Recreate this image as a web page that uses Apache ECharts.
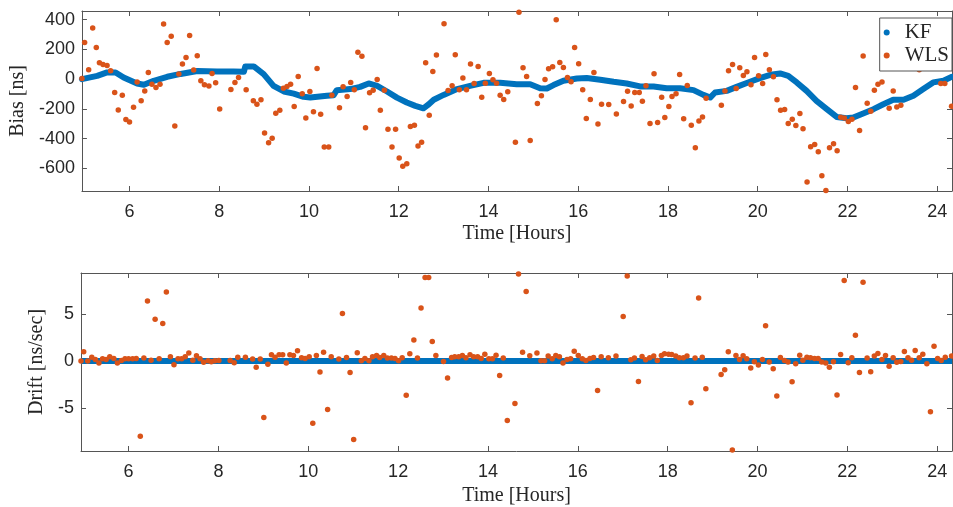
<!DOCTYPE html>
<html>
<head>
<meta charset="utf-8">
<script src="https://cdn.jsdelivr.net/npm/echarts@6/dist/echarts.min.js"></script>
<style>html,body{margin:0;padding:0;background:#fff}#c{width:953px;height:507px}</style>
</head>
<body>
<div id="c"></div>
<script>
const hourTicks = [6, 8, 10, 12, 14, 16, 18, 20, 22, 24];
const biasTicks = [-600, -400, -200, 0, 200, 400];
const driftTicks = [-5, 0, 5];

const kfBias = [[4.94,0],[5.28,22],[5.50,45],[5.69,45],[5.87,11],[6.17,-29],[6.32,-38],[6.54,-11],[6.84,16],[7.14,35],[7.51,55],[7.95,52],[8.32,52],[8.55,50],[8.58,85],[8.77,85],[8.99,34],[9.21,-45],[9.44,-83],[9.66,-97],[9.88,-119],[10.03,-124],[10.40,-112],[10.55,-108],[10.62,-74],[10.92,-67],[11.14,-52],[11.33,-29],[11.52,-45],[11.74,-83],[11.96,-124],[12.18,-157],[12.37,-180],[12.55,-196],[12.67,-169],[12.78,-139],[13.0,-106],[13.30,-67],[13.59,-45],[13.89,-25],[14.26,-25],[14.63,-34],[14.93,-34],[15.15,-61],[15.30,-63],[15.45,-40],[15.67,-11],[15.97,4],[16.19,7],[16.49,-4],[16.79,-18],[17.08,-29],[17.38,-49],[17.68,-49],[17.97,-61],[18.27,-61],[18.57,-74],[18.79,-106],[18.94,-124],[19.05,-90],[19.31,-79],[19.53,-52],[19.83,-18],[20.05,7],[20.28,29],[20.50,38],[20.68,22],[20.87,-22],[21.09,-79],[21.31,-146],[21.54,-202],[21.76,-254],[21.98,-263],[22.13,-258],[22.35,-231],[22.58,-202],[22.80,-169],[23.02,-139],[23.25,-139],[23.47,-112],[23.69,-67],[23.91,-22],[24.14,-11],[24.33,16]];

const wlsBias = [[4.94,5],[5.00,247],[5.09,63],[5.18,344],[5.26,213],[5.33,110],[5.41,99],[5.50,92],[5.58,56],[5.67,-90],[5.75,-207],[5.84,-108],[5.92,-272],[6.00,-288],[6.09,-189],[6.17,-20],[6.26,-146],[6.34,-79],[6.42,45],[6.50,-34],[6.59,-56],[6.68,-34],[6.76,371],[6.84,247],[6.93,288],[7.01,-315],[7.10,34],[7.18,101],[7.26,146],[7.34,294],[7.43,61],[7.51,157],[7.59,-11],[7.67,-38],[7.77,-47],[7.84,38],[7.92,-25],[8.01,-200],[8.26,-70],[8.35,-22],[8.43,11],[8.60,-72],[8.76,-146],[8.84,-169],[8.93,-139],[9.01,-362],[9.10,-427],[9.18,-398],[9.26,-229],[9.35,-209],[9.43,-61],[9.51,-49],[9.59,-34],[9.67,-184],[9.76,18],[9.85,-99],[9.93,-261],[10.02,-83],[10.10,-220],[10.18,72],[10.26,-236],[10.34,-456],[10.44,-456],[10.51,-108],[10.68,-193],[10.76,-52],[10.85,-117],[10.93,-22],[11.01,-72],[11.09,180],[11.18,153],[11.26,-326],[11.35,-92],[11.43,-74],[11.52,-2],[11.59,-209],[11.68,-74],[11.76,-337],[11.85,-456],[11.93,-337],[12.01,-530],[12.09,-586],[12.18,-568],[12.26,-319],[12.35,-310],[12.43,-449],[12.51,-425],[12.60,110],[12.68,-243],[12.76,52],[12.84,162],[13.01,373],[13.10,-76],[13.19,-45],[13.26,164],[13.35,-72],[13.43,7],[13.51,-72],[13.60,101],[13.68,-29],[13.77,85],[13.85,-121],[13.93,-27],[14.02,38],[14.10,-4],[14.18,-27],[14.26,-108],[14.34,-137],[14.43,-85],[14.60,-425],[14.68,450],[14.77,76],[14.85,18],[14.93,-413],[15.09,-164],[15.18,-112],[15.26,-2],[15.34,70],[15.43,83],[15.51,400],[15.59,112],[15.67,79],[15.76,11],[15.84,-18],[15.92,213],[16.01,103],[16.10,-72],[16.18,-265],[16.27,-137],[16.35,45],[16.44,-301],[16.52,-169],[16.68,-171],[16.85,-234],[17.01,-151],[17.10,-81],[17.18,-180],[17.26,-90],[17.36,-90],[17.43,-148],[17.51,-45],[17.60,-299],[17.69,36],[17.77,-292],[17.86,-121],[17.93,-258],[18.02,-184],[18.09,-117],[18.18,-99],[18.26,31],[18.35,-267],[18.43,-43],[18.52,-310],[18.61,-461],[18.69,-281],[18.77,-254],[18.85,-128],[19.19,-175],[19.27,-79],[19.35,56],[19.44,99],[19.52,-63],[19.60,76],[19.68,25],[19.76,49],[19.85,-38],[19.93,146],[20.02,22],[20.11,-29],[20.18,166],[20.26,63],[20.35,16],[20.43,-139],[20.51,-209],[20.60,-204],[20.68,-299],[20.77,-270],[20.85,-312],[20.94,-231],[21.01,-333],[21.10,-692],[21.18,-454],[21.27,-440],[21.35,-488],[21.43,-649],[21.52,-748],[21.60,-461],[21.69,-434],[21.77,-481],[21.85,-256],[21.93,-261],[22.02,-285],[22.10,-270],[22.18,-56],[22.27,-346],[22.35,155],[22.44,-162],[22.52,-216],[22.60,-74],[22.68,-34],[22.77,-20],[22.93,-196],[23.02,-79],[23.10,-187],[23.19,-175],[23.60,63],[23.84,79],[24.08,-29],[24.17,-29],[24.32,-182]];

const kfDrift = [[4.94,0],[8,0],[12,0],[16,0],[20,0],[24.33,0]];

const wlsDrift = [[4.94,0],[5.00,0.99],[5.09,0],[5.18,0.42],[5.26,0.18],[5.34,-0.21],[5.42,0.25],[5.50,0.18],[5.58,0.46],[5.67,0.28],[5.75,-0.21],[5.84,0.07],[5.92,0.25],[6.00,0.25],[6.09,0.25],[6.17,0.28],[6.26,-8.03],[6.34,0.32],[6.42,6.41],[6.50,0.1],[6.59,4.47],[6.68,0.25],[6.76,4.01],[6.84,7.36],[6.93,0.46],[7.01,-0.39],[7.10,0.25],[7.18,0.25],[7.26,0.46],[7.34,0.85],[7.43,0.1],[7.51,0.56],[7.59,0.25],[7.67,-0.14],[7.77,0.04],[7.84,-0.07],[7.92,0.04],[8.01,0.07],[8.26,0.07],[8.35,-0.18],[8.43,0.42],[8.60,0.42],[8.76,0.21],[8.84,-0.67],[8.93,0.21],[9.01,-6.02],[9.10,-0.35],[9.18,0.67],[9.26,0.42],[9.35,0.67],[9.43,0.67],[9.51,-0.21],[9.59,0.67],[9.67,0.6],[9.76,1.09],[9.85,0.35],[9.93,0.28],[10.02,0.46],[10.10,-6.65],[10.18,0.6],[10.26,-1.16],[10.34,0.95],[10.43,-5.18],[10.51,0.46],[10.68,0.21],[10.76,5.07],[10.85,0.39],[10.93,-1.23],[11.01,-8.38],[11.09,0.88],[11.18,0.04],[11.26,0.28],[11.35,0.04],[11.43,0.46],[11.52,0.6],[11.59,0.39],[11.68,0.6],[11.76,0.32],[11.85,0.32],[11.93,0.28],[12.01,0.04],[12.09,0.35],[12.18,-3.66],[12.26,0.77],[12.35,2.25],[12.43,0.32],[12.51,5.67],[12.60,8.91],[12.68,8.91],[12.76,2.08],[12.84,0.6],[13.01,-0.04],[13.10,-1.8],[13.19,0.39],[13.26,0.46],[13.35,0.46],[13.43,0.6],[13.51,0.35],[13.60,0.67],[13.68,0.46],[13.77,0.46],[13.85,0.28],[13.93,0.74],[14.02,0.25],[14.10,0.25],[14.18,0.63],[14.26,-1.55],[14.34,0.32],[14.43,-6.34],[14.60,-4.54],[14.68,9.3],[14.77,0.95],[14.85,7.43],[14.93,0.56],[15.09,0.85],[15.18,0.04],[15.26,0.04],[15.34,0.53],[15.43,0.25],[15.51,0.6],[15.59,0.46],[15.67,-0.21],[15.76,0.18],[15.84,0.25],[15.92,1.06],[16.01,0.6],[16.10,0.25],[16.18,0.07],[16.27,0.28],[16.35,0.39],[16.44,-3.13],[16.52,0.46],[16.68,0.35],[16.85,0.53],[17.01,4.75],[17.10,9.08],[17.18,0.14],[17.26,0.32],[17.35,-2.18],[17.43,0.49],[17.51,0.14],[17.60,0.35],[17.69,0.53],[17.77,0.07],[17.86,0.6],[17.93,0.77],[18.02,0.74],[18.09,0.7],[18.18,0.53],[18.26,0.35],[18.35,0.35],[18.43,0.53],[18.52,-4.44],[18.61,0.32],[18.69,6.73],[18.77,0.42],[18.85,-2.96],[19.19,-1.44],[19.27,-0.92],[19.35,0.99],[19.44,-9.5],[19.52,0.6],[19.60,0.18],[19.68,0.56],[19.76,0.25],[19.85,-0.74],[19.93,-0.07],[20.02,-0.42],[20.11,0.18],[20.18,3.77],[20.26,-0.11],[20.35,-0.81],[20.43,-3.73],[20.51,0.39],[20.60,0.07],[20.68,-0.11],[20.77,-2.22],[20.85,-0.28],[20.94,0.63],[21.01,0.1],[21.10,0.42],[21.18,0.35],[21.27,0.28],[21.35,0.28],[21.43,-0.11],[21.52,-0.21],[21.60,-0.67],[21.69,-0.07],[21.77,-3.63],[21.85,0.7],[21.93,8.59],[22.02,-0.18],[22.10,0.35],[22.18,2.75],[22.27,-1.23],[22.35,8.42],[22.44,0.32],[22.52,-1.13],[22.60,0.53],[22.68,0.81],[22.77,0.18],[22.85,0.6],[22.93,-0.56],[23.02,0.35],[23.10,-0.14],[23.19,-0.04],[23.27,1.02],[23.35,0.35],[23.43,0.1],[23.51,1.13],[23.60,0.35],[23.68,0.74],[23.77,-0.28],[23.85,-5.42],[23.93,1.58],[24.01,0.28],[24.09,0.07],[24.18,0.42],[24.32,0.53]];

const BLUE = '#0072BD', ORANGE = '#D95319';
const TXT = '#262626', LINE = '#555555';
const SANS = 'Liberation Sans', SERIF = 'Liberation Serif';
const X_MIN = 4.94, X_MAX = 24.33;

function xAx(grid, pos, withLabels, gap) {
  return {
    type: 'value', gridIndex: grid, position: pos, min: X_MIN, max: X_MAX,
    axisLine: {show: true, onZero: false, lineStyle: {color: LINE, width: 1}},
    axisTick: {show: true, inside: true, length: 5, customValues: hourTicks, lineStyle: {color: LINE}},
    axisLabel: {show: withLabels, customValues: hourTicks, fontFamily: SANS, fontSize: 18, color: TXT, margin: 12},
    splitLine: {show: false},
    name: withLabels ? 'Time [Hours]' : '', nameLocation: 'middle', nameGap: gap || 0,
    nameTextStyle: {fontFamily: SERIF, fontSize: 20, color: TXT}
  };
}
function yAx(grid, pos, min, max, ticks, name, gap, withLabels) {
  return {
    type: 'value', gridIndex: grid, position: pos, min: min, max: max,
    axisLine: {show: true, onZero: false, lineStyle: {color: LINE, width: 1}},
    axisTick: {show: true, inside: true, length: 5, customValues: ticks, lineStyle: {color: LINE}},
    axisLabel: {show: withLabels, customValues: ticks, fontFamily: SANS, fontSize: 18, color: TXT, margin: 7},
    splitLine: {show: false},
    name: withLabels ? name : '', nameLocation: 'middle', nameGap: gap,
    nameTextStyle: {fontFamily: SERIF, fontSize: 20, color: TXT}
  };
}

const chart = echarts.init(document.getElementById('c'), null, {renderer: 'canvas'});
chart.setOption({
  animation: false,
  backgroundColor: '#ffffff',
  grid: [
    {left: 81, right: 1, top: 11, height: 180},
    {left: 81, right: 1, top: 273, height: 180}
  ],
  xAxis: [xAx(0, 'bottom', true, 33), xAx(0, 'top', false), xAx(1, 'bottom', true, 35), xAx(1, 'top', false)],
  yAxis: [
    yAx(0, 'left', -752, 458, biasTicks, 'Bias [ns]', 48, true),
    yAx(0, 'right', -752, 458, biasTicks, '', 0, false),
    yAx(1, 'left', -9.6, 9.4, driftTicks, 'Drift [ns/sec]', 23, true),
    yAx(1, 'right', -9.6, 9.4, driftTicks, '', 0, false)
  ],
  legend: {
    orient: 'vertical', right: 1, top: 18,
    data: [{name: 'KF', icon: 'circle'}, {name: 'WLS', icon: 'circle'}],
    itemWidth: 26, itemHeight: 6, itemGap: 2,
    padding: [4, 3, 5, 4],
    backgroundColor: '#ffffff', borderColor: LINE, borderWidth: 1, borderRadius: 0,
    textStyle: {fontFamily: SERIF, fontSize: 21, color: TXT, lineHeight: 20}
  },
  series: [
    {name: 'KF', type: 'line', xAxisIndex: 0, yAxisIndex: 0, data: kfBias, showSymbol: false,
     lineStyle: {color: BLUE, width: 6, cap: 'round', join: 'round'}, itemStyle: {color: BLUE}, z: 2},
    {name: 'WLS', type: 'scatter', xAxisIndex: 0, yAxisIndex: 0, data: wlsBias, symbolSize: 5.5,
     itemStyle: {color: ORANGE, opacity: 1}, z: 3},
    {name: 'KF', type: 'line', xAxisIndex: 2, yAxisIndex: 2, data: kfDrift, showSymbol: false,
     lineStyle: {color: BLUE, width: 6}, itemStyle: {color: BLUE}, z: 2},
    {name: 'WLS', type: 'scatter', xAxisIndex: 2, yAxisIndex: 2, data: wlsDrift, symbolSize: 5.5,
     itemStyle: {color: ORANGE, opacity: 1}, z: 3}
  ]
});
</script>
</body>
</html>
